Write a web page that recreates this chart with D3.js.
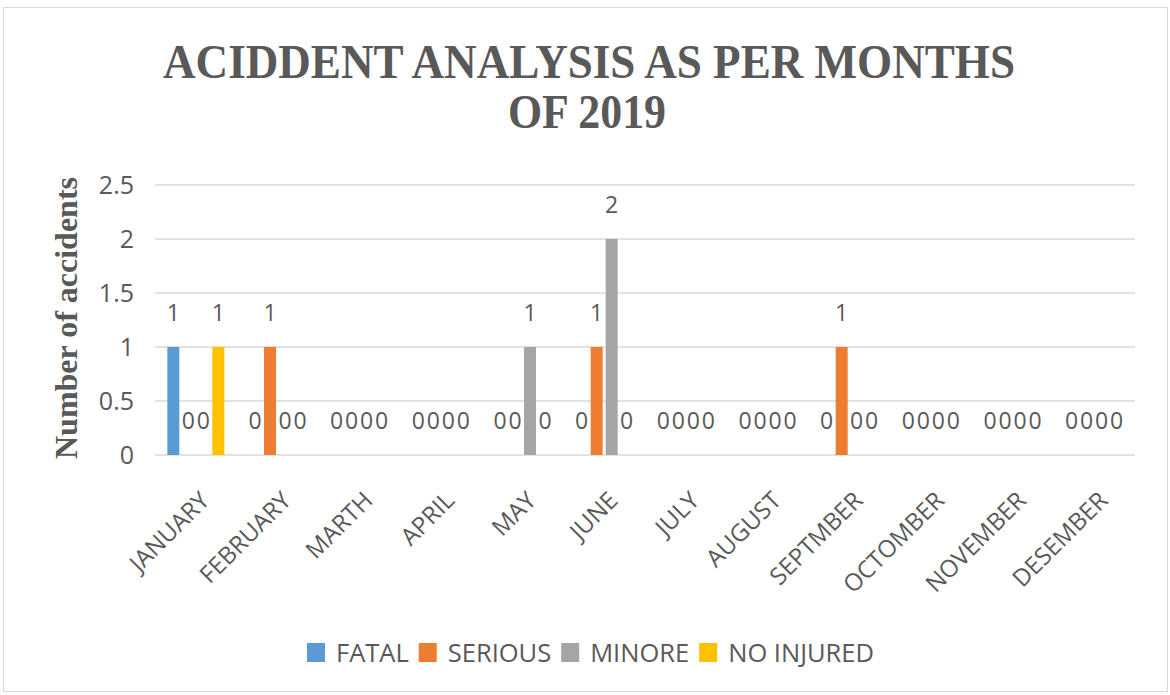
<!DOCTYPE html>
<html>
<head>
<meta charset="utf-8">
<script src="https://cdn.jsdelivr.net/npm/d3@7"></script>
<style>
  body { margin: 0; background: #fff; }
  text { fill: #595959; }
</style>
</head>
<body>
<div id="chart"></div>
<script>
// data
const months = ["JANUARY", "FEBRUARY", "MARTH", "APRIL", "MAY", "JUNE", "JULY",
                "AUGUST", "SEPTMBER", "OCTOMBER", "NOVEMBER", "DESEMBER"];
const seriesNames = ["FATAL", "SERIOUS", "MINORE", "NO INJURED"];
const fatal     = [1, 0, 0, 0, 0, 0, 0, 0, 0, 0, 0, 0];
const serious   = [0, 1, 0, 0, 0, 1, 0, 0, 1, 0, 0, 0];
const minore    = [0, 0, 0, 0, 1, 2, 0, 0, 0, 0, 0, 0];
const noInjured = [1, 0, 0, 0, 0, 0, 0, 0, 0, 0, 0, 0];
const yTicks = [0, 0.5, 1, 1.5, 2, 2.5];
const colors = ["#5B9BD5", "#ED7D31", "#A5A5A5", "#FFC000"];

const seriesValues = [fatal, serious, minore, noInjured];

const width = 1170, height = 695;
const plot = {left: 155, right: 1135, top: 185, bottom: 455};

const svg = d3.select("#chart").append("svg")
    .attr("width", width)
    .attr("height", height);

// chart frame
svg.append("rect")
    .attr("x", 3.5).attr("y", 7.5)
    .attr("width", 1164).attr("height", 684)
    .attr("fill", "#fff")
    .attr("stroke", "#D9D9D9");

// title
const titleFont = "'Liberation Serif', 'Times New Roman', serif";
svg.append("text")
    .attr("x", 589).attr("y", 78)
    .attr("text-anchor", "middle")
    .attr("textLength", 852)
    .attr("lengthAdjust", "spacingAndGlyphs")
    .style("font-family", titleFont)
    .style("font-weight", "bold")
    .style("font-size", "48px")
    .text("ACIDDENT ANALYSIS AS PER MONTHS");
svg.append("text")
    .attr("x", 587).attr("y", 128)
    .attr("text-anchor", "middle")
    .attr("textLength", 158)
    .attr("lengthAdjust", "spacingAndGlyphs")
    .style("font-family", titleFont)
    .style("font-weight", "bold")
    .style("font-size", "48px")
    .text("OF 2019");

// scales
const x0 = d3.scaleBand()
    .domain(months)
    .range([plot.left, plot.right]);

const x1 = d3.scaleBand()
    .domain(seriesNames)
    .range([x0.bandwidth() / 2 - 30, x0.bandwidth() / 2 + 30])
    .paddingInner(0.2)
    .paddingOuter(0.1);

const y = d3.scaleLinear()
    .domain([0, 2.5])
    .range([plot.bottom, plot.top]);

// gridlines
svg.append("g")
    .selectAll("line")
    .data(yTicks)
    .join("line")
    .attr("x1", plot.left).attr("x2", plot.right)
    .attr("y1", d => y(d)).attr("y2", d => y(d))
    .attr("stroke", "#D9D9D9")
    .attr("stroke-width", 1.3);

// y axis labels
const labelFont = "'Open Sans', 'Noto Sans', sans-serif";
const yAxis = svg.append("g")
    .attr("transform", "translate(" + plot.left + ",0)")
    .call(d3.axisLeft(y).tickValues(yTicks).tickSize(0).tickPadding(21).tickFormat(d3.format("")));
yAxis.select(".domain").remove();
yAxis.selectAll("text")
    .style("font-family", labelFont)
    .style("font-size", "25px")
    .attr("fill", "#595959");

// y axis title
svg.append("text")
    .attr("transform", "translate(77,318) rotate(-90)")
    .attr("text-anchor", "middle")
    .style("font-family", titleFont)
    .style("font-weight", "bold")
    .style("font-size", "32px")
    .text("Number of accidents");

// x axis labels, rotated
const xAxis = svg.append("g")
    .attr("transform", "translate(0," + plot.bottom + ")")
    .call(d3.axisBottom(x0).tickSize(0).tickPadding(0));
xAxis.select(".domain").remove();
xAxis.selectAll("text")
    .style("font-family", labelFont)
    .style("font-size", "24px")
    .attr("fill", "#595959")
    .attr("text-anchor", "end")
    .attr("dy", null)
    .attr("y", 0)
    .attr("transform", "translate(15,47) rotate(-45)");

// bars
const rows = months.map((m, i) => ({
    month: m,
    values: seriesNames.map((s, j) => ({series: s, idx: j, value: seriesValues[j][i]}))
}));

const groups = svg.append("g")
    .selectAll("g")
    .data(rows)
    .join("g")
    .attr("transform", d => "translate(" + x0(d.month) + ",0)");

groups.selectAll("rect")
    .data(d => d.values.filter(v => v.value > 0))
    .join("rect")
    .attr("x", d => x1(d.series))
    .attr("width", x1.bandwidth())
    .attr("y", d => y(d.value))
    .attr("height", d => y(0) - y(d.value))
    .attr("fill", d => colors[d.idx]);

// data labels
groups.selectAll("text")
    .data(d => d.values)
    .join("text")
    .attr("x", d => x1(d.series) + x1.bandwidth() / 2)
    .attr("y", d => y(d.value) - 26)
    .attr("text-anchor", "middle")
    .style("font-family", labelFont)
    .style("font-size", "23px")
    .text(d => d.value);

// legend
const legend = svg.append("g").attr("transform", "translate(0,653)");
let lx = 307;
seriesNames.forEach((s, j) => {
    legend.append("rect")
        .attr("x", lx).attr("y", -10)
        .attr("width", 18).attr("height", 19)
        .attr("fill", colors[j]);
    const t = legend.append("text")
        .attr("x", lx + 29).attr("y", 9)
        .style("font-family", labelFont)
        .style("font-size", "25.5px")
        .text(s);
    lx += 29 + t.node().getComputedTextLength() + 10;
});
</script>
</body>
</html>
